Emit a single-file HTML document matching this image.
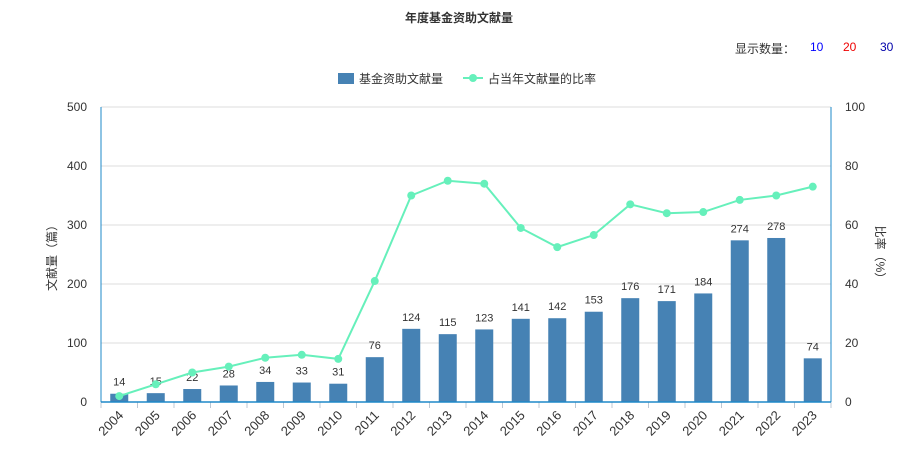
<!DOCTYPE html>
<html><head><meta charset="utf-8"><style>
body{margin:0;background:#fff;font-family:"Liberation Sans","Noto Sans CJK SC",sans-serif;}
#wrap{position:relative;width:918px;height:461px;overflow:hidden;}
.t{position:absolute;font-size:12px;color:#333;}
</style></head><body>
<div id="wrap">
<div class="t" style="left:0;width:918px;top:9px;text-align:center;font-weight:bold;font-size:12px;">年度基金资助文献量</div>
<div class="t" style="left:735px;top:40px;">显示数量：</div>
<div class="t" style="left:810px;top:40px;color:#00f;cursor:pointer">10</div>
<div class="t" style="left:843px;top:40px;color:#e00;cursor:pointer">20</div>
<div class="t" style="left:880px;top:40px;color:#00a;cursor:pointer">30</div>
<svg id="chart" width="918" height="461" style="position:absolute;left:0;top:0"></svg>
</div>
<script>
const categories=["2004","2005","2006","2007","2008","2009","2010","2011","2012","2013","2014","2015","2016","2017","2018","2019","2020","2021","2022","2023"];
const counts=[14,15,22,28,34,33,31,76,124,115,123,141,142,153,176,171,184,274,278,74];
const ratios=[2,6,10,12,15,16,14.6,41,70,75,74,59,52.5,56.6,67,64,64.4,68.5,70,73];
const leftTicks=[0,100,200,300,400,500];
const rightTicks=[0,20,40,60,80,100];
const svg=document.getElementById('chart');
const NS='http://www.w3.org/2000/svg';
const X0=101,X1=831,Y0=402,Y1=107;
const band=(X1-X0)/categories.length;
const xc=i=>X0+band*(i+0.5);
const yl=v=>Y0-(v/500)*(Y0-Y1);
const yr=v=>Y0-(v/100)*(Y0-Y1);
function mk(tag,attrs,text){const e=document.createElementNS(NS,tag);for(const k in attrs)e.setAttribute(k,attrs[k]);if(text!=null)e.textContent=text;svg.appendChild(e);return e;}
leftTicks.forEach((v,i)=>{
  const g=mk('line',{x1:X0,x2:X1,y1:yl(v),y2:yl(v),stroke:i?'#ddd':'none'});
  
  
  const t=mk('text',{x:X0-14,y:yl(v)+4,'text-anchor':'end','font-size':12,fill:'#333'},v);
  
  
});
rightTicks.forEach(v=>{
  const t=mk('text',{x:X1+14,y:yr(v)+4,'font-size':12,fill:'#333'},v);
  
  
});
let a=mk('line',{x1:X0,x2:X0,y1:Y1,y2:Y0,stroke:'#1e88c8'});


a=mk('line',{x1:X1,x2:X1,y1:Y1,y2:Y0,stroke:'#1e88c8'});


let yt=mk('text',{x:0,y:0,'font-size':12,fill:'#333','text-anchor':'middle',transform:'translate(56,255) rotate(-90)'},'文献量（篇）');


yt=mk('text',{x:0,y:0,'font-size':12,fill:'#333','text-anchor':'middle',transform:'translate(876,255) rotate(90)'},'比率（%）');


categories.forEach((c,i)=>{
  const b=mk('rect',{x:xc(i)-9,y:yl(counts[i]),width:18,height:Y0-yl(counts[i]),fill:'#4682b4'});
  
  
  const l=mk('text',{x:xc(i),y:yl(counts[i])-8,'text-anchor':'middle','font-size':11,fill:'#333'},counts[i]);
  
  
  const tk=mk('line',{x1:X0+band*i,x2:X0+band*i,y1:Y0,y2:Y0+6,stroke:'#bcc8d4'});
  
  
  const xt=mk('text',{x:0,y:0,'text-anchor':'end','font-size':13,fill:'#333',transform:`translate(${xc(i)+5},${Y0+14}) rotate(-45)`},c);
  
  
});
a=mk('line',{x1:X1,x2:X1,y1:Y0,y2:Y0+6,stroke:'#bcc8d4'});
a=mk('line',{x1:X0,x2:X1,y1:Y0,y2:Y0,stroke:'#1e88c8','stroke-width':1.5});


const pts=ratios.map((v,i)=>[xc(i),yr(v)]);
let d='M'+pts[0].join(',');
for(let i=1;i<pts.length;i++){d+=' L'+pts[i].join(',');}
const p=mk('path',{d:d,fill:'none',stroke:'#66f0bb','stroke-width':2});


pts.forEach((q,i)=>{
  const c=mk('circle',{cx:q[0],cy:q[1],r:4,fill:'#66f0bb'});
  
  
});
// legend
let lg=mk('rect',{x:338,y:73,width:16,height:11,fill:'#4682b4'});


lg=mk('text',{x:359,y:83,'font-size':12,fill:'#333'},'基金资助文献量');


lg=mk('line',{x1:463,x2:483,y1:78,y2:78,stroke:'#66f0bb','stroke-width':2});


lg=mk('circle',{cx:473,cy:78,r:4,fill:'#66f0bb'});


lg=mk('text',{x:488,y:83,'font-size':12,fill:'#333'},'占当年文献量的比率');


</script>
</body></html>
